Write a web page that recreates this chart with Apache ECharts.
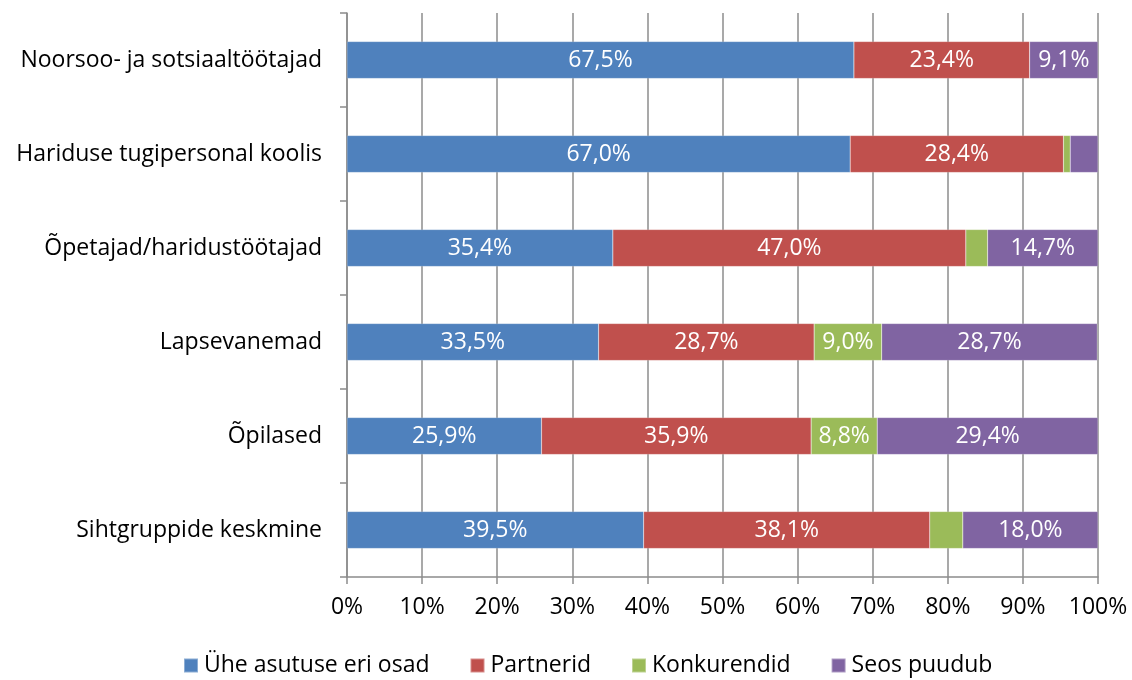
<!DOCTYPE html>
<html>
<head>
<meta charset="utf-8">
<script src="https://cdn.jsdelivr.net/npm/echarts@6/dist/echarts.min.js"></script>
<style>
  html, body { margin: 0; padding: 0; background: #fff; }
  #chart { width: 1132px; height: 680px; }
</style>
</head>
<body>
<div id="chart"></div>
<script>
// Categories (top to bottom)
const categories = [
  'Noorsoo- ja sotsiaaltöötajad',
  'Hariduse tugipersonal koolis',
  'Õpetajad/haridustöötajad',
  'Lapsevanemad',
  'Õpilased',
  'Sihtgruppide keskmine'
];

// Series values, % per category
const seriesNames = ['Ühe asutuse eri osad', 'Partnerid', 'Konkurendid', 'Seos puudub'];
const uheAsutuse = [67.5, 67.0, 35.4, 33.5, 25.9, 39.5];
const partnerid = [23.4, 28.4, 47.0, 28.7, 35.9, 38.1];
const konkurendid = [0, 0.9, 2.9, 9.0, 8.8, 4.4];
const seosPuudub = [9.1, 3.7, 14.7, 28.7, 29.4, 18.0];

const colors = ['#4F81BD', '#C0504D', '#9BBB59', '#8064A2'];
const font = '"Open Sans", sans-serif';
const axisGray = '#8c8c8c';

const chart = echarts.init(document.getElementById('chart'));

const makeSeries = (name, data, color) => ({
  name: name,
  type: 'bar',
  stack: 'total',
  data: data,
  barWidth: 37,
  itemStyle: { color: color, borderColor: 'rgba(255,255,255,0.35)', borderWidth: 0.5 },
  label: {
    show: true,
    position: 'inside',
    color: '#ffffff',
    fontFamily: font,
    fontSize: 23,
    formatter: (p) => p.value >= 5 ? p.value.toFixed(1).replace('.', ',') + '%' : ''
  },
  emphasis: { disabled: true }
});

const option = {
  backgroundColor: '#ffffff',
  animation: false,
  grid: { left: 347, right: 34, top: 13, bottom: 103, containLabel: false },
  legend: {
    bottom: -2,
    left: 178,
    itemWidth: 14,
    itemHeight: 14,
    itemGap: 40,
    icon: 'rect',
    textStyle: { fontFamily: font, fontSize: 23, color: '#000', padding: [0, 0, 0, 1] },
    data: seriesNames
  },
  xAxis: {
    type: 'value',
    min: 0,
    max: 100,
    interval: 10,
    axisLine: { show: true, lineStyle: { color: axisGray, width: 1.5 } },
    axisTick: { show: true, length: 7, lineStyle: { color: axisGray, width: 1.5 } },
    axisLabel: { color: '#000', fontFamily: font, fontSize: 23, margin: 19, formatter: '{value}%' },
    splitLine: { show: true, lineStyle: { color: axisGray, width: 1.5 } }
  },
  yAxis: {
    type: 'category',
    inverse: true,
    data: categories,
    axisLine: { show: true, lineStyle: { color: axisGray, width: 1.5 } },
    axisTick: { show: true, length: 7, lineStyle: { color: axisGray, width: 1.5 } },
    axisLabel: { color: '#000', fontFamily: font, fontSize: 23, margin: 25 }
  },
  series: [
    makeSeries(seriesNames[0], uheAsutuse, colors[0]),
    makeSeries(seriesNames[1], partnerid, colors[1]),
    makeSeries(seriesNames[2], konkurendid, colors[2]),
    makeSeries(seriesNames[3], seosPuudub, colors[3])
  ]
};

chart.setOption(option);
</script>
</body>
</html>
